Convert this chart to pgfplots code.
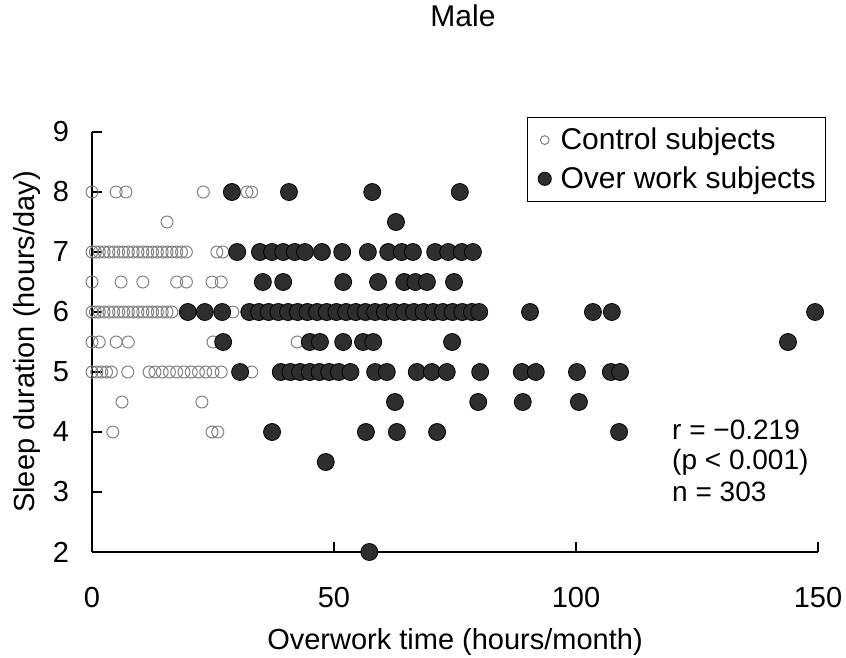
\documentclass[border=0pt]{standalone}
\usepackage{pgfplots}
\pgfplotsset{compat=1.18}
\usepackage{fontspec}
\setmainfont{Liberation Sans}
\begin{document}
\begin{tikzpicture}
\begin{axis}[
  at={(0,0)}, anchor=south west,
  scale only axis, width=363pt, height=210pt,
  xmin=0, xmax=150, ymin=2, ymax=9,
  axis lines=left, axis line style={-, line width=0.6pt, black},
  xtick={0,50,100,150}, ytick={2,3,...,9},
  tick align=inside, major tick length=5pt, tick style={line width=0.6pt, black},
  clip=false,
  /pgf/number format/assume math mode=true,
  ticklabel style={font=\fontsize{14.5}{16}\selectfont},
  xticklabel style={yshift=-14pt},
  yticklabel style={xshift=-8pt},
  xlabel={Overwork time (hours/month)},
  ylabel={Sleep duration (hours/day)},
  label style={font=\fontsize{14.5}{16}\selectfont},
  xlabel style={at={(axis description cs:0.5,-0.214)}, anchor=center},
  ylabel style={at={(axis description cs:-0.0895,0.5)}, anchor=center},
  title={Male},
  title style={at={(axis description cs:0.511,1.248)}, anchor=center, font=\fontsize{15}{17}\selectfont},
  legend style={at={(axis description cs:1.011,1.035)}, anchor=north east, draw=black, font=\fontsize{15}{17}\selectfont, inner sep=3pt, row sep=3pt, cells={anchor=west}},
]
\addplot[only marks, mark=o, mark size=3pt, mark options={draw=black!50, line width=0.5pt},
  legend image code/.code={\path (0,0) (0.4cm,0); \draw[black!50, line width=0.5pt] (0.2cm,0) circle (2.2pt);}]
coordinates {
(0,8)(5,8)(7,8)(23,8)(32,8)(33,8)
(15.5,7.5)
(0,7)(0.7,7)(1.5,7)(2.5,7)(3.5,7)(4.5,7)(5.5,7)(6.5,7)(7.5,7)(8.5,7)(9.5,7)(10.5,7)(11.5,7)(12.5,7)(13.5,7)(14.5,7)(15.5,7)(16.5,7)(17.5,7)(18.5,7)(19.5,7)(25.8,7)(27,7)
(0,6.5)(6,6.5)(10.5,6.5)(17.5,6.5)(19.5,6.5)(24.8,6.5)(26.7,6.5)
(0,6)(0.7,6)(1.5,6)(2.5,6)(3.5,6)(4.5,6)(5.5,6)(6.5,6)(7.5,6)(8.5,6)(9.5,6)(10.5,6)(11.5,6)(12.5,6)(13.5,6)(14.5,6)(15.5,6)(16.5,6)(29.1,6)
(0,5.5)(1.5,5.5)(5,5.5)(7.5,5.5)(25,5.5)(42.4,5.5)
(0,5)(1,5)(2,5)(3,5)(4,5)(7.4,5)(11.8,5)(13,5)(14.5,5)(16,5)(17.5,5)(19,5)(20.5,5)(22,5)(23.5,5)(25,5)(26.7,5)(33,5)
(6.2,4.5)(22.7,4.5)
(4.3,4)(24.8,4)(26,4)
};
\addlegendentry{Control subjects}
\addplot[only marks, mark=*, mark size=4.25pt, mark options={draw=black, fill=black!82},
  legend image code/.code={\path (0,0) (0.4cm,0); \filldraw[draw=black, fill=black!82] (0.2cm,0) circle (3.3pt);}]
coordinates {
(28.9,8)(40.7,8)(57.9,8)(76,8)
(62.8,7.5)
(30,7)(34.7,7)(37.2,7)(39.5,7)(41.9,7)(44,7)(47.5,7)(51.7,7)(57,7)(61.2,7)(64,7)(66.3,7)(70.9,7)(73.6,7)(76.4,7)(78.7,7)
(35.3,6.5)(39.5,6.5)(51.9,6.5)(59.1,6.5)(64.5,6.5)(66.8,6.5)(69.2,6.5)(74.8,6.5)
(19.8,6)(23.3,6)(26.9,6)(32.5,6)(34.5,6)(36.5,6)(38.5,6)(40.5,6)(42.5,6)(44.5,6)(46.5,6)(48.5,6)(50.5,6)(52.5,6)(54.5,6)(56.5,6)(58.5,6)(60.5,6)(62.5,6)(64.5,6)(66.5,6)(68.5,6)(70.5,6)(72.5,6)(74.5,6)(76.5,6)(78.5,6)(80,6)
(90.5,6)(103.5,6)(107.4,6)(149.4,6)
(27.1,5.5)(45,5.5)(47.1,5.5)(51.9,5.5)(56,5.5)(58.1,5.5)(74.4,5.5)(143.8,5.5)
(30.6,5)(39,5)(41,5)(43,5)(45,5)(47,5)(49,5)(51,5)(53.4,5)(58.5,5)(60.9,5)(67.1,5)(70.2,5)(73.3,5)(80.2,5)(88.8,5)(91.7,5)(100.2,5)(107.2,5)(109.1,5)
(62.6,4.5)(79.8,4.5)(89,4.5)(100.6,4.5)
(37.2,4)(56.6,4)(63,4)(71.3,4)(108.9,4)
(48.3,3.5)
(57.3,2)
};
\addlegendentry{Over work subjects}
\node[anchor=base west, font=\fontsize{14}{16}\selectfont, inner sep=0pt] at (axis cs:119.8,3.87) {r = −0.219};
\node[anchor=base west, font=\fontsize{14}{16}\selectfont, inner sep=0pt] at (axis cs:119.8,3.37) {(p < 0.001)};
\node[anchor=base west, font=\fontsize{14}{16}\selectfont, inner sep=0pt] at (axis cs:119.8,2.85) {n = 303};
\end{axis}
\pgfresetboundingbox
\path[use as bounding box] (-46pt,-53pt) rectangle (377pt,276pt);
\end{tikzpicture}
\end{document}
